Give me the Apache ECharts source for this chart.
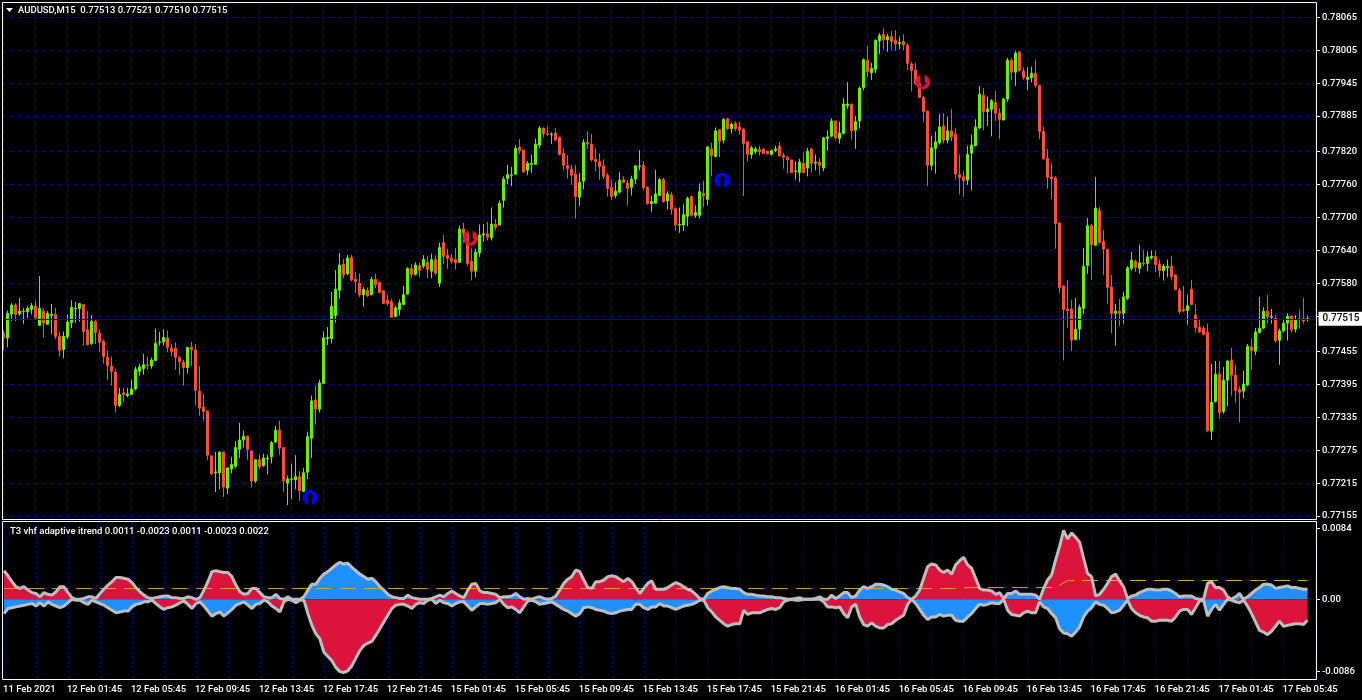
<!DOCTYPE html>
<html><head><meta charset="utf-8">
<style>html,body{margin:0;padding:0;background:#000}#c{width:1362px;height:700px}</style>
<script src="https://cdn.jsdelivr.net/npm/echarts@6/dist/echarts.min.js"></script>
</head><body><div id="c"></div>
<script>
// Prices in 1e-5 units, one entry per M15 bar
const opens=[77489,77480,77524,77540,77524,77528,77528,77532,77538,77503,
77529,77505,77521,77523,77483,77459,77482,77508,77533,77534,
77541,77495,77470,77510,77489,77474,77445,77429,77418,77357,
77380,77375,77377,77387,77419,77424,77431,77429,77439,77472,
77473,77480,77462,77461,77444,77436,77426,77463,77458,77383,
77354,77347,77265,77234,77234,77272,77206,77241,77246,77277,
77294,77301,77274,77219,77258,77247,77260,77263,77290,77312,
77280,77215,77222,77221,77227,77200,77235,77297,77367,77350,
77397,77479,77479,77521,77567,77615,77597,77627,77587,77580,
77559,77567,77559,77587,77582,77566,77549,77546,77519,77532,
77541,77560,77607,77596,77612,77611,77618,77602,77623,77580,
77654,77631,77626,77623,77618,77679,77671,77620,77602,77635,
77668,77670,77663,77688,77686,77731,77771,77777,77779,77828,
77823,77786,77797,77797,77832,77863,77853,77851,77854,77846,
77817,77795,77788,77779,77737,77766,77837,77834,77806,77802,
77794,77777,77755,77740,77746,77769,77763,77755,77770,77793,
77795,77755,77725,77726,77740,77769,77730,77741,77716,77686,
77686,77702,77738,77704,77704,77744,77733,77825,77811,77860,
77841,77880,77862,77872,77865,77861,77838,77815,77820,77824,
77824,77821,77815,77822,77830,77813,77810,77805,77784,77782,
77799,77790,77825,77799,77801,77790,77844,77848,77876,77844,
77853,77904,77907,77859,77876,77937,77987,77964,77970,78022,
78034,78024,78030,78023,78017,78021,78014,77980,77969,77944,
77919,77894,77795,77826,77836,77867,77841,77858,77852,77778,
77774,77768,77817,77831,77863,77923,77893,77897,77910,77890,
77878,77916,77987,77965,78002,77967,77952,77955,77963,77941,
77857,77808,77774,77772,77690,77575,77533,77533,77477,77496,
77534,77612,77685,77649,77713,77656,77642,77573,77525,77529,
77525,77552,77607,77620,77607,77617,77616,77626,77629,77615,
77603,77608,77611,77595,77567,77533,77530,77569,77522,77500,
77498,77491,77310,77364,77414,77346,77403,77440,77412,77386,
77383,77394,77464,77456,77490,77498,77529,77518,77516,77476,
77493,77507,77520,77496,77515,77515,77513];
const closes=[77481,77525,77540,77523,77529,77529,77534,77539,77517,77534,
77507,77525,77523,77483,77457,77483,77509,77536,77534,77543,
77492,77468,77510,77490,77472,77446,77430,77419,77357,77377,
77377,77378,77387,77423,77427,77431,77430,77440,77470,77473,
77481,77463,77455,77445,77437,77426,77463,77459,77384,77352,
77346,77266,77232,77236,77272,77208,77243,77249,77280,77294,
77301,77277,77219,77258,77245,77261,77261,77289,77312,77279,
77219,77223,77223,77227,77201,77234,77300,77365,77350,77398,
77480,77481,77538,77569,77613,77595,77626,77586,77583,77559,
77569,77557,77587,77577,77563,77543,77543,77518,77535,77544,
77559,77607,77596,77613,77603,77623,77605,77623,77598,77645,
77629,77625,77620,77617,77679,77671,77616,77602,77637,77668,
77670,77664,77688,77682,77726,77770,77778,77778,77826,77822,
77783,77799,77799,77834,77863,77853,77852,77852,77841,77815,
77795,77789,77777,77738,77764,77837,77834,77805,77802,77793,
77775,77753,77738,77748,77768,77764,77753,77770,77794,77794,
77754,77725,77729,77743,77769,77729,77743,77715,77686,77687,
77705,77735,77704,77709,77747,77739,77829,77813,77858,77839,
77879,77862,77870,77862,77859,77835,77815,77827,77825,77820,
77817,77816,77822,77825,77812,77810,77805,77782,77785,77801,
77782,77821,77799,77801,77795,77845,77847,77876,77845,77854,
77907,77907,77858,77875,77936,77988,77966,77972,78023,78032,
78024,78030,78021,78017,78019,78015,77981,77968,77944,77919,
77893,77795,77827,77838,77865,77841,77858,77847,77779,77773,
77767,77815,77832,77865,77925,77893,77898,77913,77890,77879,
77916,77987,77965,78000,77968,77955,77956,77963,77941,77857,
77807,77773,77771,77689,77572,77532,77530,77476,77496,77536,
77611,77685,77650,77717,77654,77642,77572,77525,77529,77525,
77555,77608,77622,77609,77617,77615,77628,77629,77614,77603,
77611,77611,77592,77568,77528,77530,77539,77541,77499,77491,
77486,77311,77363,77414,77344,77403,77438,77412,77384,77381,
77396,77465,77457,77491,77498,77529,77519,77519,77475,77493,
77507,77520,77495,77513,77513,77511,77515];
const lows=[77457,77463,77511,77511,77521,77506,77516,77523,77513,77502,
77481,77504,77487,77478,77446,77443,77478,77498,77508,77510,
77466,77466,77467,77469,77454,77433,77403,77393,77344,77354,
77363,77372,77377,77384,77411,77413,77422,77424,77439,77466,
77466,77454,77447,77422,77413,77393,77415,77429,77357,77338,
77329,77257,77231,77199,77204,77190,77195,77233,77242,77261,
77280,77258,77207,77215,77241,77245,77231,77251,77289,77267,
77199,77175,77186,77204,77183,77199,77222,77261,77322,77344,
77397,77467,77470,77508,77552,77589,77595,77583,77562,77555,
77537,77555,77558,77571,77563,77543,77539,77518,77518,77521,
77541,77559,77589,77594,77591,77607,77589,77589,77595,77573,
77615,77606,77616,77605,77618,77654,77612,77585,77591,77628,
77656,77658,77658,77677,77686,77718,77761,77757,77778,77816,
77782,77777,77781,77797,77826,77846,77848,77834,77840,77813,
77786,77771,77760,77698,77721,77751,77825,77802,77784,77769,
77770,77738,77731,77735,77744,77763,77722,77740,77761,77786,
77749,77723,77710,77725,77739,77727,77715,77705,77675,77672,
77675,77684,77702,77699,77698,77719,77722,77775,77810,77810,
77835,77859,77853,77857,77851,77739,77802,77807,77816,77813,
77816,77815,77813,77819,77812,77789,77780,77782,77769,77765,
77782,77775,77782,77786,77777,77784,77822,77847,77842,77835,
77852,77898,77842,77825,77862,77932,77957,77951,77963,77998,
78007,78002,78005,78004,78007,78005,77969,77930,77942,77919,
77875,77757,77786,77780,77833,77835,77835,77839,77769,77742,
77738,77759,77749,77829,77861,77859,77867,77848,77876,77843,
77877,77911,77951,77940,77966,77951,77932,77946,77937,77843,
77805,77752,77734,77643,77563,77439,77498,77456,77476,77477,
77524,77597,77586,77648,77652,77595,77542,77489,77466,77502,
77506,77549,77603,77600,77597,77611,77602,77623,77600,77591,
77585,77591,77585,77567,77524,77527,77504,77540,77490,77489,
77485,77308,77294,77362,77333,77342,77355,77375,77362,77326,
77370,77392,77422,77449,77488,77496,77507,77506,77472,77431,
77490,77475,77490,77490,77497,77506,77510];
const highs=[77494,77530,77544,77543,77553,77535,77538,77544,77549,77593,
77534,77529,77542,77535,77491,77492,77523,77549,77546,77544,
77541,77529,77522,77514,77496,77477,77458,77446,77424,77389,
77389,77389,77404,77428,77433,77451,77446,77444,77497,77491,
77496,77494,77469,77472,77447,77440,77463,77473,77469,77429,
77378,77347,77265,77272,77272,77272,77243,77263,77292,77325,
77311,77301,77274,77258,77267,77269,77267,77292,77320,77329,
77280,77229,77251,77266,77237,77243,77309,77375,77393,77404,
77492,77500,77564,77604,77635,77624,77632,77631,77601,77597,
77573,77572,77592,77597,77582,77568,77559,77551,77539,77550,
77575,77609,77615,77618,77617,77631,77630,77634,77631,77654,
77668,77643,77634,77644,77685,77690,77675,77643,77643,77687,
77688,77692,77718,77697,77731,77775,77796,77792,77832,77843,
77824,77803,77814,77844,77867,77864,77867,77855,77863,77848,
77827,77814,77796,77796,77781,77843,77857,77852,77826,77817,
77806,77781,77769,77764,77783,77775,77768,77776,77796,77823,
77803,77757,77739,77787,77772,77772,77748,77746,77719,77718,
77724,77738,77740,77722,77762,77767,77829,77836,77864,77861,
77881,77882,77873,77875,77875,77863,77839,77831,77829,77831,
77827,77821,77824,77831,77838,77818,77812,77805,77802,77807,
77818,77827,77827,77815,77808,77847,77859,77881,77877,77875,
77918,77947,77907,77885,77939,77990,78013,77982,78025,78036,
78045,78035,78040,78042,78030,78034,78018,77984,77982,77944,
77922,77895,77849,77857,77889,77890,77884,77898,77863,77815,
77785,77831,77851,77879,77940,77936,77921,77916,77931,77899,
77918,77991,77991,78004,78002,77974,77974,77975,77988,77941,
77866,77825,77799,77775,77691,77577,77586,77550,77553,77541,
77644,77699,77688,77774,77719,77677,77642,77595,77542,77551,
77564,77611,77637,77623,77650,77641,77638,77640,77640,77623,
77615,77623,77630,77597,77571,77575,77559,77586,77541,77514,
77502,77506,77433,77438,77438,77427,77440,77462,77431,77392,
77420,77469,77479,77498,77555,77536,77559,77533,77522,77497,
77513,77525,77521,77522,77532,77553,77521];

// Indicator envelopes in 1e-4 units
const upper=[34,28,21,15,13,15,11,8,7,3,
8,6,5,9,15,15,8,2,0,0,
1,3,3,1,7,12,17,21,26,26,
25,24,20,14,9,5,2,1,2,3,
4,4,2,2,1,1,3,2,0,2,
11,21,33,34,33,32,32,27,17,9,
6,7,13,13,8,3,2,2,6,1,
0,3,0,0,0,3,11,18,18,25,
30,33,37,41,44,42,43,38,34,30,
27,24,25,21,15,11,6,3,2,1,
1,5,2,1,0,0,0,1,3,5,
3,7,10,7,4,2,11,18,19,10,
8,8,7,6,2,3,3,4,7,3,
0,1,0,2,3,1,0,1,4,11,
19,24,27,35,33,23,14,13,21,21,
23,27,28,27,24,21,25,21,14,7,
13,19,22,12,12,12,14,17,20,18,
15,12,10,6,1,0,7,10,12,14,
15,14,13,13,12,8,6,6,5,4,
4,3,3,2,2,1,0,0,1,2,
0,0,0,1,3,0,0,5,1,4,
8,8,2,4,11,15,13,15,18,18,
17,15,12,11,9,7,2,0,4,11,
25,39,42,41,35,32,35,30,41,46,
50,41,37,25,13,11,11,10,6,8,
1,7,7,10,6,6,6,6,5,0,
13,23,29,47,63,82,72,79,74,68,
49,31,27,4,6,12,19,27,30,22,
15,1,4,5,8,10,12,12,11,11,
12,12,10,7,3,4,4,4,1,0,
0,19,21,14,14,11,3,0,3,7,
0,3,7,11,14,18,18,17,13,14,
15,16,14,14,13,12,12];
const lower=[-17,-11,-10,-9,-8,-7,-6,-5,-8,-4,
-8,-3,-6,-8,-10,-8,-4,0,-1,-1,
-4,-6,-1,-3,-5,-7,-10,-13,-16,-15,
-14,-14,-9,-6,-5,-3,-3,-1,-5,-9,
-12,-10,-9,-7,-4,-2,-6,-11,-5,-3,
-8,-14,-20,-17,-15,-20,-16,-12,-7,-5,
-3,-7,-11,-6,-5,-1,-3,-8,-11,-15,
-3,0,-1,-4,-1,-1,-17,-31,-41,-47,
-63,-68,-73,-81,-86,-87,-85,-79,-70,-61,
-55,-52,-50,-43,-35,-27,-19,-11,-7,-6,
-6,-8,-11,-6,-4,-5,-1,0,-5,-1,
-4,-5,-8,-5,-3,-3,-8,-13,-9,-5,
-5,-6,-5,-4,0,-6,-10,-9,-12,-16,
-9,-2,-1,-3,-6,-5,-4,-3,-6,-9,
-12,-14,-17,-20,-17,-10,-9,-10,-12,-13,
-14,-16,-17,-16,-14,-13,-12,-12,-6,-6,
-10,-12,-9,-9,-5,-8,-8,-10,-12,-10,
-8,-7,-6,-4,-1,-1,-10,-15,-21,-25,
-29,-32,-30,-29,-29,-13,-18,-16,-16,-16,
-14,-12,-11,-12,-10,-3,-1,0,-1,-1,
0,0,0,0,0,-3,-9,-9,-10,-9,
-17,-22,-9,-6,-21,-30,-32,-28,-32,-34,
-34,-30,-29,-25,-22,-19,-6,0,-5,-12,
-19,-24,-21,-21,-18,-20,-19,-19,-25,-26,
-26,-21,-17,-11,-6,-7,-6,-4,-5,-5,
0,-13,-18,-19,-20,-16,-14,-16,-16,-3,
-9,-11,-17,-22,-35,-40,-41,-44,-39,-33,
-21,-14,-10,-3,-6,-7,-11,-16,-15,-13,
-7,-1,-11,-16,-19,-21,-22,-26,-26,-25,
-25,-25,-26,-21,-14,-12,-12,-18,-10,-2,
-1,-20,-12,-6,-13,-6,0,-1,-3,-4,
-1,-8,-17,-27,-37,-39,-42,-38,-32,-26,
-32,-31,-30,-29,-29,-30,-25];
// Bar ranges where the upper band is crimson (blue elsewhere)
const redTopRanges=[[0,36],[49,66],[108,124],[132,175],[227,250],[260,281],[300,308]];
// Gold level: bar index and value
const levelBars=[0,238,241,263,266,326];
const levelVals=[0.00128,0.00128,0.0014,0.0014,0.00224,0.00224];
// Arrow signals: bar, price
const buySignals=[[77,0.77189],[180,0.77768]];
const sellSignals=[[117,0.77662],[230,0.77947]];

const priceTicks=[0.78065,0.78005,0.77945,0.77885,0.77820,0.77760,0.77700,0.77640,0.77580,0.77520,0.77455,0.77395,0.77335,0.77275,0.77215,0.77155];
const priceLabels=[0.78065,0.78005,0.77945,0.77885,0.77820,0.77760,0.77700,0.77640,0.77580,0.77455,0.77395,0.77335,0.77275,0.77215,0.77155];
const lastPrice=0.77515;
const subTicks=[0.0084,0,-0.0086];
const timeLabels=['11 Feb 2021','12 Feb 01:45','12 Feb 05:45','12 Feb 09:45','12 Feb 13:45','12 Feb 17:45','12 Feb 21:45',
'15 Feb 01:45','15 Feb 05:45','15 Feb 09:45','15 Feb 13:45','15 Feb 17:45','15 Feb 21:45',
'16 Feb 01:45','16 Feb 05:45','16 Feb 09:45','16 Feb 13:45','16 Feb 17:45','16 Feb 21:45',
'17 Feb 01:45','17 Feb 05:45'];
const mainTitle='AUDUSD,M15  0.77513 0.77521 0.77510 0.77515';
const subTitle='T3 vhf adaptive itrend 0.0011 -0.0023 0.0011 -0.0023 0.0022';

const FONT='Roboto', FS=9.5, FW=500;
const GRID='#000096', RED='#dc143c', BLUE='#1e90ff', GRAY='#bebebe';
const cats=Array.from({length:329},(_,i)=>String(i));
const candles=opens.map((o,i)=>[o/1e5,closes[i]/1e5,lows[i]/1e5,highs[i]/1e5]);
const isRed=i=>redTopRanges.some(r=>i>=r[0]&&i<=r[1]);
const U=upper.map(v=>v/1e4), L=lower.map(v=>v/1e4);
const topRed=U.map((v,i)=>isRed(i)?v:0), topBlue=U.map((v,i)=>isRed(i)?0:v);
const botBlue=L.map((v,i)=>isRed(i)?v:0), botRed=L.map((v,i)=>isRed(i)?0:v);
const fill=(d,c)=>({type:'line',xAxisIndex:1,yAxisIndex:1,data:d,symbol:'none',lineStyle:{width:0},areaStyle:{color:c,opacity:1},z:2});
const UP='path://M50 0A50 50 0 1 1 50 100A50 50 0 1 1 50 0ZM50 16L22 46L36 46L36 100L64 100L64 46L78 46Z';
const DN='path://M50 0A50 50 0 1 1 50 100A50 50 0 1 1 50 0ZM50 84L78 54L64 54L64 0L36 0L36 54L22 54Z';
const dashed={color:GRID,type:[5,3],width:1};
const subDashed={color:'#000078',type:[3,2],width:1};

const chart=echarts.init(document.getElementById('c'),null,{renderer:'canvas'});
chart.setOption({
 animation:false,backgroundColor:'#000',
 textStyle:{fontFamily:FONT},
 grid:[{left:1.5,top:2,width:1316,height:517},{left:1.5,top:521,width:1316,height:158}],
 xAxis:[
  {type:'category',gridIndex:0,data:cats,position:'bottom',axisLine:{show:false},axisTick:{show:false},axisLabel:{show:false},
   splitLine:{show:true,interval:7,alignWithLabel:true,lineStyle:dashed}},
  {type:'category',gridIndex:1,data:cats,position:'bottom',axisLine:{show:false},
   axisTick:{show:true,interval:15,alignWithLabel:true,length:4,lineStyle:{color:'#fff'}},
   axisLabel:{show:true,interval:15,margin:6,align:'left',color:'#fff',fontFamily:FONT,fontSize:FS,fontWeight:FW,padding:[0,0,0,-1],
     formatter:(v,i)=>timeLabels[Math.round(i/16)]||''},
   splitLine:{show:true,interval:7,alignWithLabel:true,lineStyle:subDashed}}
 ],
 yAxis:[
  {type:'value',gridIndex:0,position:'right',offset:-1.5,min:0.771497,max:0.780931,
   axisLine:{show:false},
   axisTick:{show:true,length:4,inside:false,lineStyle:{color:'#fff'},customValues:priceTicks},
   axisLabel:{show:true,margin:6,color:'#fff',fontFamily:FONT,fontSize:FS,fontWeight:FW,padding:[2,0,0,0],customValues:priceLabels,formatter:v=>v.toFixed(5)},
   splitLine:{show:true,lineStyle:dashed}},
  {type:'value',gridIndex:1,position:'right',offset:-1.5,min:-0.00948,max:0.00932,
   axisLine:{show:false},
   axisTick:{show:true,length:4,lineStyle:{color:'#fff'},customValues:subTicks},
   axisLabel:{show:true,margin:6,color:'#fff',fontFamily:FONT,fontSize:FS,fontWeight:FW,padding:[2,0,0,0],customValues:subTicks,formatter:v=>v===0?'0.00':v.toFixed(4)},
   splitLine:{show:false}}
 ],
 series:[
  {type:'candlestick',xAxisIndex:0,yAxisIndex:0,data:candles,barWidth:2,z:3,
   itemStyle:{color:'#66f000',color0:'#ff4f38',borderColor:'#66f000',borderColor0:'#ff4f38',borderWidth:1},
   markLine:{silent:true,symbol:'none',animation:false,precision:5,
     lineStyle:{color:'#0000c0',type:'solid',width:1},
     label:{show:true,position:'end',distance:1,backgroundColor:'#fff',color:'#000',fontFamily:FONT,fontSize:FS+0.5,fontWeight:FW,padding:[2,4,2,4],formatter:()=>lastPrice.toFixed(5)},
     data:[{yAxis:lastPrice}]}},
  {type:'scatter',xAxisIndex:0,yAxisIndex:0,data:buySignals,symbol:UP,symbolSize:15,symbolOffset:[-1.5,0],itemStyle:{color:'#0000ff',opacity:1},z:5},
  {type:'scatter',xAxisIndex:0,yAxisIndex:0,data:sellSignals,symbol:DN,symbolSize:15,symbolOffset:[-1,0],itemStyle:{color:RED,opacity:1},z:5},
  fill(topRed,RED),fill(topBlue,BLUE),fill(botRed,RED),fill(botBlue,BLUE),
  {type:'line',xAxisIndex:1,yAxisIndex:1,data:levelBars.map((b,i)=>[b,levelVals[i]]),symbol:'none',lineStyle:{color:'#daa520',width:1,type:[16,8]},z:3},
  {type:'line',xAxisIndex:1,yAxisIndex:1,data:U,symbol:'none',lineStyle:{color:GRAY,width:3},z:4},
  {type:'line',xAxisIndex:1,yAxisIndex:1,data:L,symbol:'none',lineStyle:{color:GRAY,width:3},z:4}
 ],
 graphic:[
  {type:'rect',silent:true,z:10,shape:{x:2.5,y:2.5,width:1314,height:517},style:{fill:null,stroke:'#fff',lineWidth:1}},
  {type:'rect',silent:true,z:10,shape:{x:2.5,y:521.5,width:1314,height:158},style:{fill:null,stroke:'#fff',lineWidth:1}},
  {type:'polygon',silent:true,z:10,shape:{points:[[6,8],[13,8],[9.5,12]]},style:{fill:'#fff'}},
  {type:'text',silent:true,z:10,x:18,y:6,style:{text:mainTitle,fill:'#fff',font:FW+' '+FS+'px '+FONT}},
  {type:'text',silent:true,z:10,x:10,y:527,style:{text:subTitle,fill:'#fff',font:FW+' '+FS+'px '+FONT}}
 ]
});
</script></body></html>
